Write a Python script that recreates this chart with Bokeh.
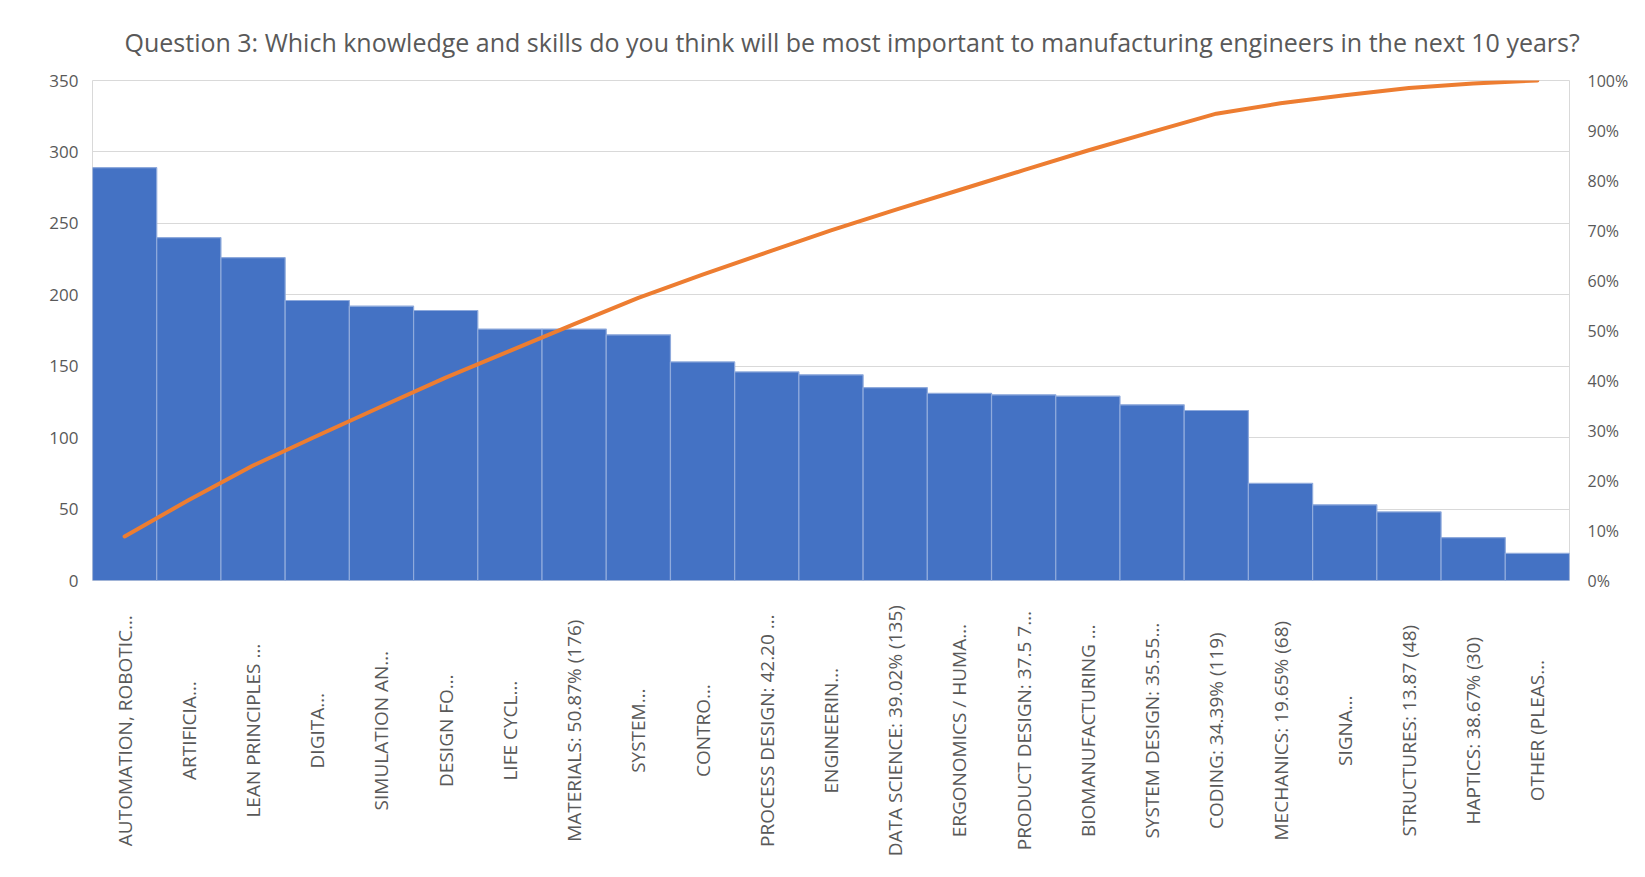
import numpy as np
from bokeh.plotting import figure
from bokeh.layouts import column
from bokeh.models import (Range1d, LinearAxis, NumeralTickFormatter, FixedTicker,
                          Title, ColumnDataSource)
from bokeh.core.properties import value
from bokeh.embed import file_html
from bokeh.resources import INLINE

title_text = "Question 3: Which knowledge and skills do you think will be most important to manufacturing engineers in the next 10 years?"

categories = [
    "AUTOMATION, ROBOTIC\u2026",
    "ARTIFICIA\u2026",
    "LEAN PRINCIPLES \u2026",
    "DIGITA\u2026",
    "SIMULATION AN\u2026",
    "DESIGN FO\u2026",
    "LIFE CYCL\u2026",
    "MATERIALS: 50.87% (176)",
    "SYSTEM\u2026",
    "CONTRO\u2026",
    "PROCESS DESIGN: 42.20 \u2026",
    "ENGINEERIN\u2026",
    "DATA SCIENCE: 39.02% (135)",
    "ERGONOMICS / HUMA\u2026",
    "PRODUCT DESIGN: 37.5 7\u2026",
    "BIOMANUFACTURING \u2026",
    "SYSTEM DESIGN: 35.55\u2026",
    "CODING: 34.39% (119)",
    "MECHANICS: 19.65% (68)",
    "SIGNA\u2026",
    "STRUCTURES: 13.87 (48)",
    "HAPTICS: 38.67% (30)",
    "OTHER (PLEAS\u2026",
]
counts = [289, 240, 226, 196, 192, 189, 176, 176, 172, 153, 146, 144, 135,
          131, 130, 129, 123, 119, 68, 53, 48, 30, 19]

left_ticks = [0, 50, 100, 150, 200, 250, 300, 350]
right_ticks = [0, 0.1, 0.2, 0.3, 0.4, 0.5, 0.6, 0.7, 0.8, 0.9, 1.0]

n = len(categories)
xs = list(range(n))
cum_share = list(np.cumsum(counts) / np.sum(counts))

src = ColumnDataSource(dict(x=xs, top=counts, cum=cum_share, cat=categories,
                            ly=[0.53] * n))

xr = Range1d(-0.5, n - 0.5)

p = figure(width=1645, height=600, output_backend="svg", toolbar_location=None,
           x_range=xr, y_range=Range1d(0, 350),
           min_border_left=92, min_border_right=76, min_border_top=80,
           min_border_bottom=20)
p.extra_y_ranges = {"pct": Range1d(0, 1)}

p.background_fill_color = "white"
p.border_fill_color = "white"
p.outline_line_color = "#d9d9d9"
p.outline_line_width = 1

p.vbar(x="x", top="top", width=1.0, bottom=0, source=src,
       fill_color="#4472C4", line_color="#8FAADC", line_width=1.2)
p.line(x="x", y="cum", source=src, y_range_name="pct",
       line_color="#ED7D31", line_width=4, line_cap="round", line_join="round")

p.xaxis.visible = False
p.xgrid.visible = False
p.ygrid.grid_line_color = "#d9d9d9"
p.ygrid.grid_line_width = 1
p.yaxis.ticker = FixedTicker(ticks=left_ticks)
p.yaxis.axis_line_color = None
p.yaxis.major_tick_line_color = None
p.yaxis.minor_tick_line_color = None
p.yaxis.major_label_text_font = "Open Sans"
p.yaxis.major_label_text_font_size = "17px"
p.yaxis.major_label_text_color = "#595959"
p.yaxis.major_label_standoff = 8

ax_r = LinearAxis(y_range_name="pct", ticker=FixedTicker(ticks=right_ticks),
                  formatter=NumeralTickFormatter(format="0%"))
ax_r.axis_line_color = None
ax_r.major_tick_line_color = None
ax_r.minor_tick_line_color = None
ax_r.major_label_text_font = "Open Sans"
ax_r.major_label_text_font_size = "16px"
ax_r.major_label_text_color = "#595959"
ax_r.major_label_standoff = 12
p.add_layout(ax_r, "right")

t = Title(text=title_text, align="left", text_font="Open Sans",
          text_font_size="25px", text_font_style="normal", text_color="#595959",
          offset=32, standoff=44)
p.add_layout(t, "above")

# category labels below the bars (second panel sharing the x range)
p2 = figure(width=1645, height=277, output_backend="svg", toolbar_location=None,
            x_range=xr, y_range=Range1d(0, 1),
            min_border_left=92, min_border_right=76, min_border_top=0,
            min_border_bottom=0)
p2.outline_line_color = None
p2.axis.visible = False
p2.grid.visible = False
p2.background_fill_color = "white"
p2.border_fill_color = "white"
p2.text(x="x", y="ly", text="cat", source=src, angle=np.pi / 2,
        text_align="center", text_baseline="middle",
        text_font=value("Open Sans"), text_font_size="19px",
        text_color="#595959")

layout = column(p, p2, spacing=0)
open("out.html", "w").write(file_html(layout, INLINE))
